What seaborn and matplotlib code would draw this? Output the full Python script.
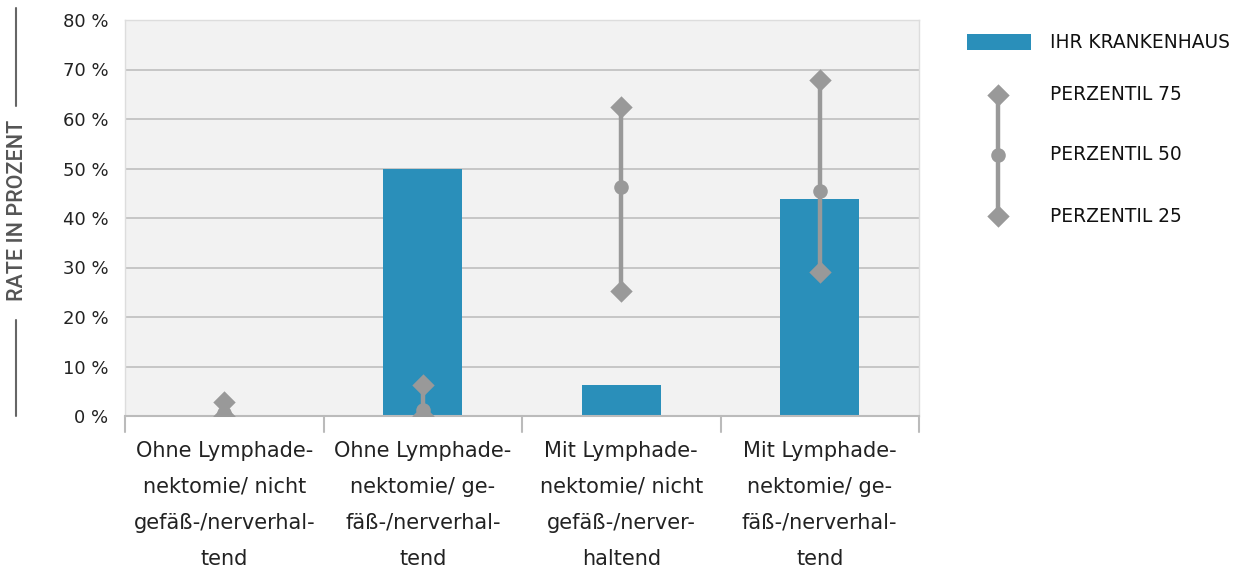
import matplotlib
matplotlib.use("Agg")
import matplotlib.pyplot as plt
from matplotlib.lines import Line2D
import seaborn as sns
import pandas as pd

categories = [
    "Ohne Lymphade-\nnektomie/ nicht\ngefäß-/nerverhal-\ntend",
    "Ohne Lymphade-\nnektomie/ ge-\nfäß-/nerverhal-\ntend",
    "Mit Lymphade-\nnektomie/ nicht\ngefäß-/nerver-\nhaltend",
    "Mit Lymphade-\nnektomie/ ge-\nfäß-/nerverhal-\ntend",
]
krankenhaus = [0.0, 50.0, 6.3, 43.8]
perzentil_75 = [2.8, 6.3, 62.4, 67.9]
perzentil_50 = [0.6, 1.2, 46.3, 45.5]
perzentil_25 = [0.0, 0.0, 25.3, 29.1]
y_ticks = [0, 10, 20, 30, 40, 50, 60, 70, 80]

BAR = "#2a8fba"
GREY = "#999999"
BG = "#f2f2f2"
GRID = "#c3c3c3"
TXT = "#222222"

sns.set_theme(style="white")
plt.rcParams["font.family"] = ["DejaVu Sans"]

fig = plt.figure(figsize=(12.37, 5.74), dpi=100)
ax = fig.add_axes([125 / 1237, 1 - 416 / 574, 794 / 1237, 396 / 574])
ax.set_facecolor(BG)

df = pd.DataFrame({"kategorie": categories, "rate": krankenhaus})
sns.barplot(data=df, x="kategorie", y="rate", color=BAR, saturation=1,
            width=0.4, ax=ax, zorder=2, edgecolor="none", linewidth=0)

xs = range(len(categories))
ax.vlines(xs, perzentil_25, perzentil_75, color=GREY, lw=3.2, zorder=3)
ax.scatter(xs, perzentil_75, marker="D", s=130, color=GREY, zorder=4, linewidths=0)
ax.scatter(xs, perzentil_25, marker="D", s=130, color=GREY, zorder=4, linewidths=0)
ax.scatter(xs, perzentil_50, marker="o", s=110, color=GREY, zorder=4, linewidths=0)

ax.set_xlim(-0.5, len(categories) - 0.5)
ax.set_ylim(0, 80)
ax.set_yticks(y_ticks)
ax.set_yticklabels([f"{v} %" for v in y_ticks], fontsize=13, color=TXT)
ax.yaxis.grid(True, color=GRID, lw=1.3, zorder=0)
ax.set_axisbelow(True)
ax.tick_params(axis="y", length=0, pad=12)
ax.set_xlabel("")
ax.set_ylabel("")

# category labels with separator ticks between groups
ax.set_xticks(list(xs))
ax.set_xticklabels(categories, fontsize=15, color=TXT, linespacing=2.0)
ax.tick_params(axis="x", length=0, pad=18)
for b in [i - 0.5 for i in range(len(categories) + 1)]:
    ax.plot([b, b], [0, -3.2], color="#bbbbbb", lw=1.5, clip_on=False, zorder=1)

for side in ["top", "right", "left"]:
    ax.spines[side].set_color("#dddddd")
    ax.spines[side].set_linewidth(1)
ax.spines["bottom"].set_color("#bbbbbb")
ax.spines["bottom"].set_linewidth(1.5)

# vertical axis title flanked by rules
fig.text(18 / 1237, 1 - 210 / 574, "RATE IN PROZENT", rotation=90, ha="center",
         va="center", fontsize=15.5, color="#555555",
         family=["Roboto", "DejaVu Sans"], fontweight="medium")
fig.add_artist(Line2D([16 / 1237, 16 / 1237], [1 - 8 / 574, 1 - 106 / 574],
                      color="#666666", lw=1.5))
fig.add_artist(Line2D([16 / 1237, 16 / 1237], [1 - 320 / 574, 1 - 416 / 574],
                      color="#666666", lw=1.5))

# legend
lg = fig.add_axes([0.77, 0, 0.23, 1])
lg.set_xlim(0, 0.23 * 1237)
lg.set_ylim(574, 0)
lg.axis("off")
x0 = 967 - 0.77 * 1237
lg.add_patch(plt.Rectangle((x0, 34), 64, 16, color=BAR, lw=0))
mx = 998 - 0.77 * 1237
lg.plot([mx, mx], [95, 216], color=GREY, lw=3.2)
lg.scatter([mx, mx], [95, 216], marker="D", s=130, color=GREY, linewidths=0, zorder=3)
lg.scatter([mx], [155], marker="o", s=110, color=GREY, linewidths=0, zorder=3)
tx = 1050 - 0.77 * 1237
for y, t in [(42, "IHR KRANKENHAUS"), (95, "PERZENTIL 75"),
             (155, "PERZENTIL 50"), (216, "PERZENTIL 25")]:
    lg.text(tx, y, t, va="center", ha="left", fontsize=13.4, color="#111111")

fig.savefig("out.png", dpi=100)
